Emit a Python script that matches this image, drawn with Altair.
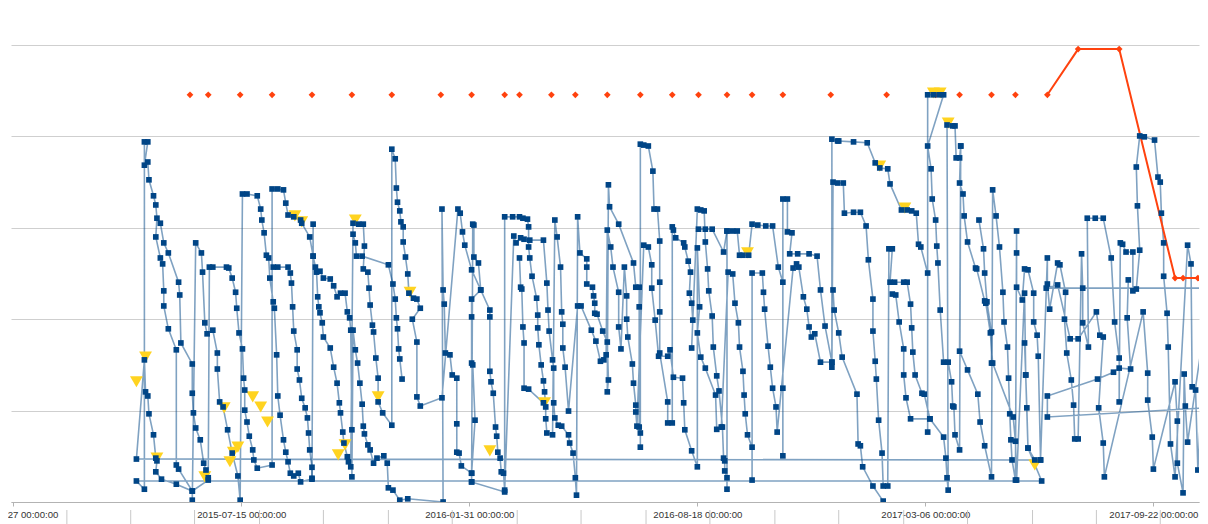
import altair as alt
import pandas as pd

ORIGIN = pd.Timestamp("2014-12-27")

# ---------------- blue series (days since 2014-12-27, value) ----------------
a_pre_day = [887, 888, 889, 890, 902]
a_pre_val = [34.8, 27.8, 20.6, 11.8, 4.6]
a0_day = [108, 115]
a0_val = [4.6, 2.8]
r01_day = [115, 118, 115, 118, 119, 123, 125, 126, 125, 129, 131, 132, 132, 136, 143, 143, 145, 157, 157]
r01_val = [78.8, 78.8, 73.7, 74.4, 70.5, 67.0, 65.0, 62.1, 58.0, 53.4, 52.1, 46.2, 42.9, 37.9, 33.3, 8.1, 7.2, 2.4, 0.4]
r03_day = [160, 165, 166, 168, 170, 175, 179, 179, 181, 184, 188, 192, 197, 199]
r03_val = [56.7, 54.5, 50.3, 39.2, 36.8, 37.6, 32.6, 29.1, 21.9, 20.8, 15.8, 10.7, 5.7, 0.4]
r05_day = [201, 205, 214, 217, 218, 220, 222, 224, 225, 228, 229, 231, 232, 234, 237, 239, 241, 243, 246, 250, 252, 262]
r05_val = [67.4, 67.4, 67.0, 64.1, 61.7, 58.9, 54.0, 53.4, 49.0, 43.8, 42.4, 32.2, 23.2, 19.0, 13.6, 10.9, 8.8, 6.3, 5.7, 6.3, 4.4, 5.0]
r08_day = [263, 263, 266, 267, 268, 269, 271, 272, 278, 281, 284, 286, 287, 289, 290, 293, 294, 296]
r08_val = [60.8, 53.8, 50.3, 44.9, 42.7, 41.4, 39.2, 36.1, 33.7, 29.5, 26.0, 21.7, 19.5, 15.3, 12.9, 9.9, 8.8, 7.7]
r09_day = [298, 303, 307, 308, 307, 311, 312, 313, 315, 316, 318, 320, 320, 324, 332]
r09_val = [61.0, 60.8, 60.8, 56.0, 51.0, 50.3, 46.8, 43.1, 38.7, 37.2, 31.5, 27.1, 21.9, 19.5, 16.8]
r11_day = [332, 335, 336, 337, 339, 340, 342, 342, 344, 346, 347, 351, 354, 357, 350, 354, 354, 357, 376]
r11_val = [77.2, 75.1, 68.7, 65.6, 63.7, 61.3, 60.2, 56.9, 53.6, 49.9, 45.7, 44.6, 44.4, 42.4, 40.0, 35.0, 23.0, 21.0, 22.8]
r13_day = [390, 392, 394, 396, 402, 410, 418, 418, 418, 419, 421, 423, 424, 425, 427, 428, 430, 431]
r13_val = [64.1, 63.2, 59.1, 56.2, 50.8, 46.4, 42.0, 40.5, 28.6, 26.3, 23.8, 16.4, 14.4, 10.9, 9.6, 6.6, 6.3, 2.6]
r16_day = [439, 441, 445, 448, 453, 465, 468, 469, 470, 473, 474, 474, 475, 478, 481, 487, 488, 491, 493, 494]
r16_val = [58.2, 56.7, 57.8, 57.5, 57.3, 57.3, 47.9, 42.0, 37.4, 31.1, 29.3, 21.7, 18.4, 16.8, 16.6, 14.7, 12.9, 10.7, 5.3, 1.5]
r19_day = [495, 497, 503, 503, 503, 508, 509, 510, 510, 512, 517, 521, 522, 521]
r19_val = [62.4, 54.5, 53.2, 51.4, 47.7, 47.0, 45.1, 43.5, 41.3, 41.1, 37.4, 35.0, 26.7, 24.1]
r21_day = [522, 523, 531, 544, 546, 549, 549, 549, 550, 550]
r21_val = [69.4, 64.6, 60.8, 52.3, 47.0, 47.0, 42.7, 16.4, 15.1, 12.0]
r24_day = [550, 553, 557, 561, 562, 565, 567, 567, 567, 567, 574, 574, 578]
r24_val = [78.3, 78.1, 77.9, 72.4, 64.1, 64.1, 57.1, 48.1, 41.6, 32.6, 21.9, 17.3, 17.3]
r26_day = [578, 579, 581, 588, 589, 592, 594, 593, 595, 596, 595]
r26_val = [60.2, 59.5, 57.8, 56.7, 55.8, 52.7, 50.3, 45.7, 43.5, 39.8, 33.7]
r28_day = [600, 603, 606, 607, 609, 610, 613, 614, 617, 619, 622, 623, 624, 624, 626, 626]
r28_val = [64.1, 63.9, 63.7, 56.9, 51.0, 46.2, 40.7, 33.9, 27.6, 24.3, 16.4, 9.6, 9.0, 6.8, 5.3, 2.8]
r31_day = [626, 631, 635, 637, 640, 645]
r31_val = [59.3, 59.3, 59.3, 54.0, 54.0, 54.0]
r33_day = [648, 653, 660, 666, 671, 675, 675, 675]
r33_val = [60.8, 60.6, 60.4, 60.4, 51.4, 48.1, 24.9, 10.1]
r36_day = [675, 679, 679, 683, 681, 688, 698, 705, 708, 712, 718]
r36_val = [66.3, 66.3, 59.1, 58.9, 54.3, 54.3, 54.3, 53.8, 46.4, 38.5, 30.6]
r38_day = [718, 723, 724, 737, 749, 756, 760, 767, 769, 779, 784, 788, 792, 794, 796, 802]
r38_val = [79.4, 79.0, 79.0, 78.8, 78.6, 74.2, 73.1, 72.9, 69.6, 63.9, 63.9, 63.7, 63.2, 56.4, 55.8, 50.1]
r43_day = [802, 802, 807, 812, 816, 802, 805, 806, 809, 810, 811, 813, 816, 820, 823, 824, 825, 826, 830]
r43_val = [15.3, 89.1, 89.1, 89.1, 89.1, 77.9, 72.9, 66.3, 61.7, 56.0, 52.3, 42.0, 30.6, 30.6, 26.3, 21.0, 20.8, 14.7, 11.4]
r45_day = [831, 830, 837, 846, 848, 852, 858]
r45_val = [77.9, 33.0, 28.9, 23.6, 17.5, 12.3, 5.5]
r47_day = [859, 862, 865, 868, 869, 872, 873, 874, 875, 876, 879]
r47_val = [68.3, 62.6, 55.8, 45.9, 39.4, 33.9, 27.1, 19.3, 13.6, 9.2, 4.8]
r49_day = [880, 880, 880, 885, 887, 890, 895, 895, 898, 899, 901]
r49_val = [59.3, 54.5, 47.0, 44.2, 51.0, 50.8, 45.7, 39.4, 36.5, 31.9, 9.2]

b0_day = [108, 115, 116, 118, 119, 123, 125, 126, 125, 130, 143, 157, 171]
b0_val = [9.4, 31.1, 24.1, 23.2, 19.3, 14.7, 9.6, 9.0, 6.6, 5.0, 3.9, 2.4, 4.8]
r04_day = [172, 175, 187, 189, 192, 195, 196, 198, 201, 202, 203, 203, 205, 207, 210, 211, 214, 227]
r04_val = [51.4, 51.4, 51.4, 51.2, 49.0, 45.9, 42.4, 37.0, 33.5, 27.1, 24.5, 20.1, 17.5, 14.4, 11.4, 9.2, 7.4, 8.1]
r06_day = [227, 232, 237, 239, 241, 246, 252, 253, 260, 263, 265, 269, 272, 278, 281, 284, 287, 291, 293, 295, 296, 297, 297]
r06_val = [68.5, 68.5, 68.3, 65.4, 62.8, 62.4, 61.7, 61.0, 58.0, 53.8, 51.4, 50.5, 49.0, 48.8, 47.3, 44.9, 45.7, 45.7, 41.6, 40.3, 37.6, 15.8, 5.5]
r10_day = [298, 300, 302, 304, 306, 307, 308, 311, 313, 316, 319, 325, 328, 329, 333, 339, 346, 377]
r10_val = [37.6, 33.3, 30.4, 26.0, 21.4, 16.6, 14.9, 12.5, 11.4, 8.5, 9.6, 10.1, 8.5, 3.1, 2.6, 0.4, 0.7, 0.0]
r12_day = [376, 377, 378, 379, 383, 385, 389, 389, 389, 391, 393, 402, 402]
r12_val = [64.1, 46.4, 43.3, 32.6, 32.2, 27.8, 27.1, 17.1, 10.9, 10.7, 7.9, 6.3, 4.4]
r14_day = [403, 404, 404, 408, 410, 402, 402, 402, 403, 405, 402, 402, 431]
r14_val = [60.8, 60.6, 53.6, 52.3, 46.4, 44.4, 40.5, 30.4, 30.0, 17.9, 6.3, 4.4, 2.2]
r15_day = [431, 438, 444, 447, 451, 452, 452, 453, 455, 459, 460, 460, 461, 463, 465, 466, 467, 467, 468, 473]
r15_val = [62.4, 62.4, 62.4, 62.1, 61.9, 60.2, 55.8, 53.4, 49.4, 44.6, 40.9, 38.1, 34.4, 30.0, 26.5, 24.1, 20.8, 18.2, 15.1, 14.7]
r18_day = [475, 477, 480, 481, 482, 482, 484, 487, 495]
r18_val = [61.7, 58.0, 51.4, 41.6, 38.9, 33.7, 29.5, 19.9, 42.9]
r20_day = [498, 507, 511, 515, 518, 520]
r20_val = [42.9, 37.6, 35.2, 30.8, 31.1, 32.2]
r22_day = [521, 524, 526, 531, 531, 533]
r22_val = [59.5, 55.8, 51.4, 45.9, 38.3, 33.5]
r23_day = [536, 538, 538, 539, 543, 544, 546, 546, 547]
r23_val = [51.4, 45.1, 40.0, 36.1, 30.2, 26.0, 21.2, 19.7, 16.6]
r25_day = [553, 557, 560, 560, 563, 566, 574, 576]
r25_val = [56.2, 55.8, 51.9, 46.8, 39.8, 31.9, 31.9, 33.3]
r27_day = [579, 587, 588, 589, 595, 600]
r27_val = [27.3, 27.1, 21.7, 15.8, 11.2, 7.7]
r30_day = [600, 602, 600, 603, 607, 616, 617, 621]
r30_val = [55.6, 42.7, 37.0, 31.7, 29.3, 23.4, 15.9, 16.4]
r32_day = [627, 631, 633, 636, 637, 640, 641, 642, 644, 648, 648]
r32_val = [50.3, 49.9, 43.5, 39.2, 33.9, 28.6, 23.4, 19.3, 14.7, 12.0, 4.8]
r34_day = [648, 657, 658, 659, 662, 664, 666, 669, 670]
r34_val = [50.1, 50.1, 45.9, 42.2, 34.1, 29.5, 24.9, 20.8, 15.3]
r37_day = [684, 687, 689, 693, 696, 698, 700, 703, 708, 718, 718]
r37_val = [51.2, 52.1, 51.4, 44.9, 42.2, 38.3, 36.1, 36.8, 30.6, 30.6, 29.5]
r39_day = [719, 723, 728, 729, 737, 743, 748, 750, 754, 754, 756, 757, 759, 762, 763, 767]
r39_val = [70.0, 69.8, 69.8, 63.2, 63.4, 63.4, 60.4, 53.0, 44.4, 37.4, 30.8, 26.9, 17.9, 10.7, 3.5, 3.5]
r41_day = [768, 771, 769, 773, 781, 784, 787, 788, 789, 791, 797, 799]
r41_val = [55.4, 55.4, 48.1, 48.1, 48.1, 48.1, 43.3, 38.1, 32.8, 27.8, 23.8, 23.6]
r42_day = [804, 816, 818, 819, 820]
r42_val = [18.2, 14.2, 9.6, 5.3, 2.6]
r44_day = [819, 824, 826, 827, 830, 831, 830, 833, 834, 837, 844, 845, 852, 853, 857, 859]
r44_val = [82.5, 82.3, 82.3, 75.3, 75.3, 77.9, 69.8, 67.4, 62.6, 56.9, 51.2, 51.0, 44.0, 43.5, 37.0, 30.4]
r50_day = [877, 879, 880, 887, 888, 890, 896, 901]
r50_val = [18.6, 13.3, 4.8, 45.7, 27.8, 11.8, 9.2, 9.2]

e_day = [907, 907, 909, 916, 918, 923, 922, 924, 928, 930, 931, 934, 937, 938, 938, 943, 942, 949, 956, 963,
         966, 970, 970, 971, 973, 976, 982, 982, 985, 988, 986, 985, 988, 992, 1001, 1004, 1006, 1007, 1009, 1009,
         1012, 1013, 1015, 1019, 1030, 1033, 1034, 1037, 1039, 1047]
e_val = [53.4, 47.7, 42.2, 52.3, 51.9, 45.9, 40.0, 32.6, 26.7, 21.2, 13.8, 13.8, 54.3, 46.8, 39.2, 33.9, 62.1, 62.1, 62.1, 53.4,
         39.4, 31.5, 21.9, 56.7, 56.4, 54.7, 54.7, 46.2, 46.6, 55.1, 64.8, 73.3, 80.1, 79.9, 79.2, 71.1, 70.0, 63.2, 56.7, 49.4,
         41.3, 33.9, 12.7, 5.5, 56.2, 52.1, 25.2, 24.5, 7.0, 46.8]
f_day = [906, 916, 927, 934, 950, 953, 956, 952, 956, 957, 991, 995, 995, 999, 1000, 1019, 1021, 1021, 1026, 1027,
         1028, 1030, 1043, 1043, 1044, 1047]
f_val = [46.8, 47.5, 35.7, 35.7, 41.6, 36.5, 36.1, 20.6, 12.9, 5.5, 41.6, 28.2, 22.3, 14.2, 7.2, 26.3, 17.7, 8.5, 2.0, 28.0,
         21.0, 13.1, 35.4, 38.1, 38.1, 20.6]
g_day = [907, 907, 951, 965, 970, 980, 977, 978]
g_val = [18.6, 23.2, 26.9, 28.4, 29.3, 29.1, 40.3, 48.6]

# loose runs (not joined to the main path)
l1_day = [129, 132, 136, 145, 146, 147, 157, 157, 158, 160, 164, 167, 169, 171]
l1_val = [61.0, 56.7, 54.5, 48.1, 45.3, 34.8, 30.2, 23.8, 19.5, 16.2, 13.6, 8.5, 7.0, 5.3]
l2_day = [228, 232, 241, 243, 244, 245, 246, 249, 249, 251, 253, 256, 258, 259, 260, 262, 262]
l2_val = [51.4, 51.4, 51.4, 50.1, 47.9, 42.7, 37.4, 33.3, 29.1, 26.7, 22.7, 20.6, 18.4, 15.1, 11.4, 7.6, 5.2]
l3_day = [298, 300, 301, 306, 329, 333, 335, 336, 337, 338, 339, 341]
l3_val = [58.6, 56.7, 53.8, 53.8, 51.9, 47.7, 44.4, 40.3, 37.9, 33.5, 31.3, 26.9]
l4_day = [444, 445, 446, 447, 448, 448, 452, 465]
l4_val = [53.4, 47.0, 46.6, 38.3, 34.8, 24.9, 24.7, 21.7]
l5_day = [601, 607, 613, 623, 626]
l5_val = [59.7, 59.7, 59.7, 54.7, 59.3]
l6_day = [719, 720, 724, 727, 740, 741, 743, 745, 754, 763]
l6_val = [46.4, 42.0, 37.0, 31.7, 23.6, 12.7, 12.3, 7.7, 3.5, 0.2]
l7_day = [771, 774, 777, 781, 781, 783, 787, 804]
l7_val = [45.5, 45.3, 39.4, 33.5, 27.8, 22.8, 18.2, 18.2]
l8_day = [847, 851, 852, 854, 858, 858]
l8_val = [61.7, 55.4, 50.1, 43.8, 37.2, 30.4]

# ---------------- orange series ----------------
orange_day = [155, 171, 199, 227, 262, 297, 332, 375, 402, 431, 444, 472, 493, 521, 550, 578, 601, 626, 648, 675,
              717, 766, 809, 830, 858, 879, 907, 934, 970, 1019, 1026, 1039, 1052]
orange_val = [89.1] * 27 + [99.1, 99.1, 49.0, 49.0, 49.0, 49.0]
orange_joined_from = 26  # index where consecutive values start

# ---------------- yellow series ----------------
yellow_day = [108, 116, 126, 168, 185, 193, 197, 190, 210, 217, 223, 247, 253, 285, 291, 300, 320, 348, 418, 466,
              644, 760, 782, 807, 813, 820, 896]
yellow_val = [26.3, 31.7, 9.6, 5.5, 20.6, 10.9, 12.0, 8.8, 23.0, 20.8, 17.5, 62.6, 61.3, 10.3, 12.5, 61.7, 23.0, 45.9, 11.2, 21.7,
              54.5, 73.5, 64.3, 89.5, 89.5, 82.9, 8.1]

# ---------------- axis ----------------
tick_labels = ["2014-12-27", "2015-07-15", "2016-01-31", "2016-08-18", "2017-03-06", "2017-09-22"]
sep_day = [47, 103, 159, 216, 272, 329, 385, 442, 498, 555, 611, 668, 724, 781, 837, 894, 950, 1006]
y_grid = [0, 20, 40, 60, 80, 100]

main_path = [
    (a_pre_day, a_pre_val), (a0_day, a0_val), (r01_day, r01_val), (r03_day, r03_val), (r05_day, r05_val),
    (r08_day, r08_val), (r09_day, r09_val), (r11_day, r11_val), (r13_day, r13_val), (r16_day, r16_val),
    (r19_day, r19_val), (r21_day, r21_val), (r24_day, r24_val), (r26_day, r26_val), (r28_day, r28_val),
    (r31_day, r31_val), (r33_day, r33_val), (r36_day, r36_val), (r38_day, r38_val), (r43_day, r43_val),
    (r45_day, r45_val), (r47_day, r47_val), (r49_day, r49_val),
    (b0_day, b0_val), (r04_day, r04_val), (r06_day, r06_val), (r10_day, r10_val), (r12_day, r12_val),
    (r14_day, r14_val), (r15_day, r15_val), (r18_day, r18_val), (r20_day, r20_val), (r22_day, r22_val),
    (r23_day, r23_val), (r25_day, r25_val), (r27_day, r27_val), (r30_day, r30_val), (r32_day, r32_val),
    (r34_day, r34_val), (r37_day, r37_val), (r39_day, r39_val), (r41_day, r41_val), (r42_day, r42_val),
    (r44_day, r44_val), (r50_day, r50_val),
    (e_day, e_val), (f_day, f_val), (g_day, g_val),
]
loose = [(l1_day, l1_val), (l2_day, l2_val), (l3_day, l3_val), (l4_day, l4_val),
         (l5_day, l5_val), (l6_day, l6_val), (l7_day, l7_val), (l8_day, l8_val)]

rows = []
order = 0
def add(days, vals, seg):
    global order
    for d, v in zip(days, vals):
        rows.append({"date": ORIGIN + pd.Timedelta(days=d), "value": v, "seg": seg, "ord": order})
        order += 1

for d, v in main_path:
    add(d, v, 0)
for i, (d, v) in enumerate(loose):
    add(d, v, i + 1)
blue = pd.DataFrame(rows)

orange = pd.DataFrame({"date": [ORIGIN + pd.Timedelta(days=d) for d in orange_day], "value": orange_val})
orange_line = orange.iloc[orange_joined_from:]
yellow = pd.DataFrame({"date": [ORIGIN + pd.Timedelta(days=d) for d in yellow_day], "value": yellow_val})
seps = pd.DataFrame({"date": [ORIGIN + pd.Timedelta(days=d) for d in sep_day]})

def dt(s):
    t = pd.Timestamp(s)
    return alt.DateTime(year=t.year, month=t.month, date=t.day)

PLOT_H = 457
PLOT_W = 1188
xdom = [dt("2014-12-25"), dt("2017-11-01")]
x_enc = alt.X("date:T", scale=alt.Scale(domain=xdom),
              axis=alt.Axis(values=[dt(s) for s in tick_labels], format="%Y-%m-%d %H:%M:%S",
                            labelFlush=False, labelOverlap=False, grid=False, title=None,
                            tickSize=4, tickColor="#b3b3b3", domainColor="#b3b3b3",
                            labelFont="Liberation Sans", labelFontSize=9.6, labelColor="#333333",
                            labelPadding=3))
y_enc = alt.Y("value:Q", scale=alt.Scale(domain=[0, 100]),
              axis=alt.Axis(values=y_grid, labels=False, ticks=False, domain=False, grid=True,
                            gridColor="#cfcfcf", title=None))

sep_layer = alt.Chart(seps).mark_rule(color="#c8c8c8", strokeWidth=1).encode(
    x=x_enc, y=alt.value(PLOT_H + 8), y2=alt.value(PLOT_H + 40))

blue_line = alt.Chart(blue).mark_line(color="#004586", opacity=0.5, strokeWidth=1.6, clip=True).encode(
    x=x_enc, y=y_enc, detail="seg:N", order="ord:Q")
orange_ln = alt.Chart(orange_line).mark_line(color="#ff420e", strokeWidth=2, clip=True).encode(
    x=x_enc, y=y_enc)
orange_pt = alt.Chart(orange).mark_point(shape="diamond", filled=True, size=45, color="#ff420e",
                                         opacity=1, clip=True).encode(x=x_enc, y=y_enc)
yellow_pt = alt.Chart(yellow).mark_point(shape="triangle-down", filled=True, size=165, color="#ffd320",
                                         opacity=1).encode(x=x_enc, y=y_enc)
blue_pt = alt.Chart(blue).mark_point(shape="square", filled=True, size=32, color="#004586",
                                     opacity=1, clip=True).encode(x=x_enc, y=y_enc)

chart = alt.layer(sep_layer, blue_line, orange_ln, orange_pt, yellow_pt, blue_pt).properties(
    width=PLOT_W, height=PLOT_H,
    autosize=alt.AutoSizeParams(type="none"),
    padding={"left": 3, "top": 37, "right": 1, "bottom": 22},
    background="white",
).configure_view(stroke=None)

chart.save("out.html", embed_options={"renderer": "svg", "actions": False})
